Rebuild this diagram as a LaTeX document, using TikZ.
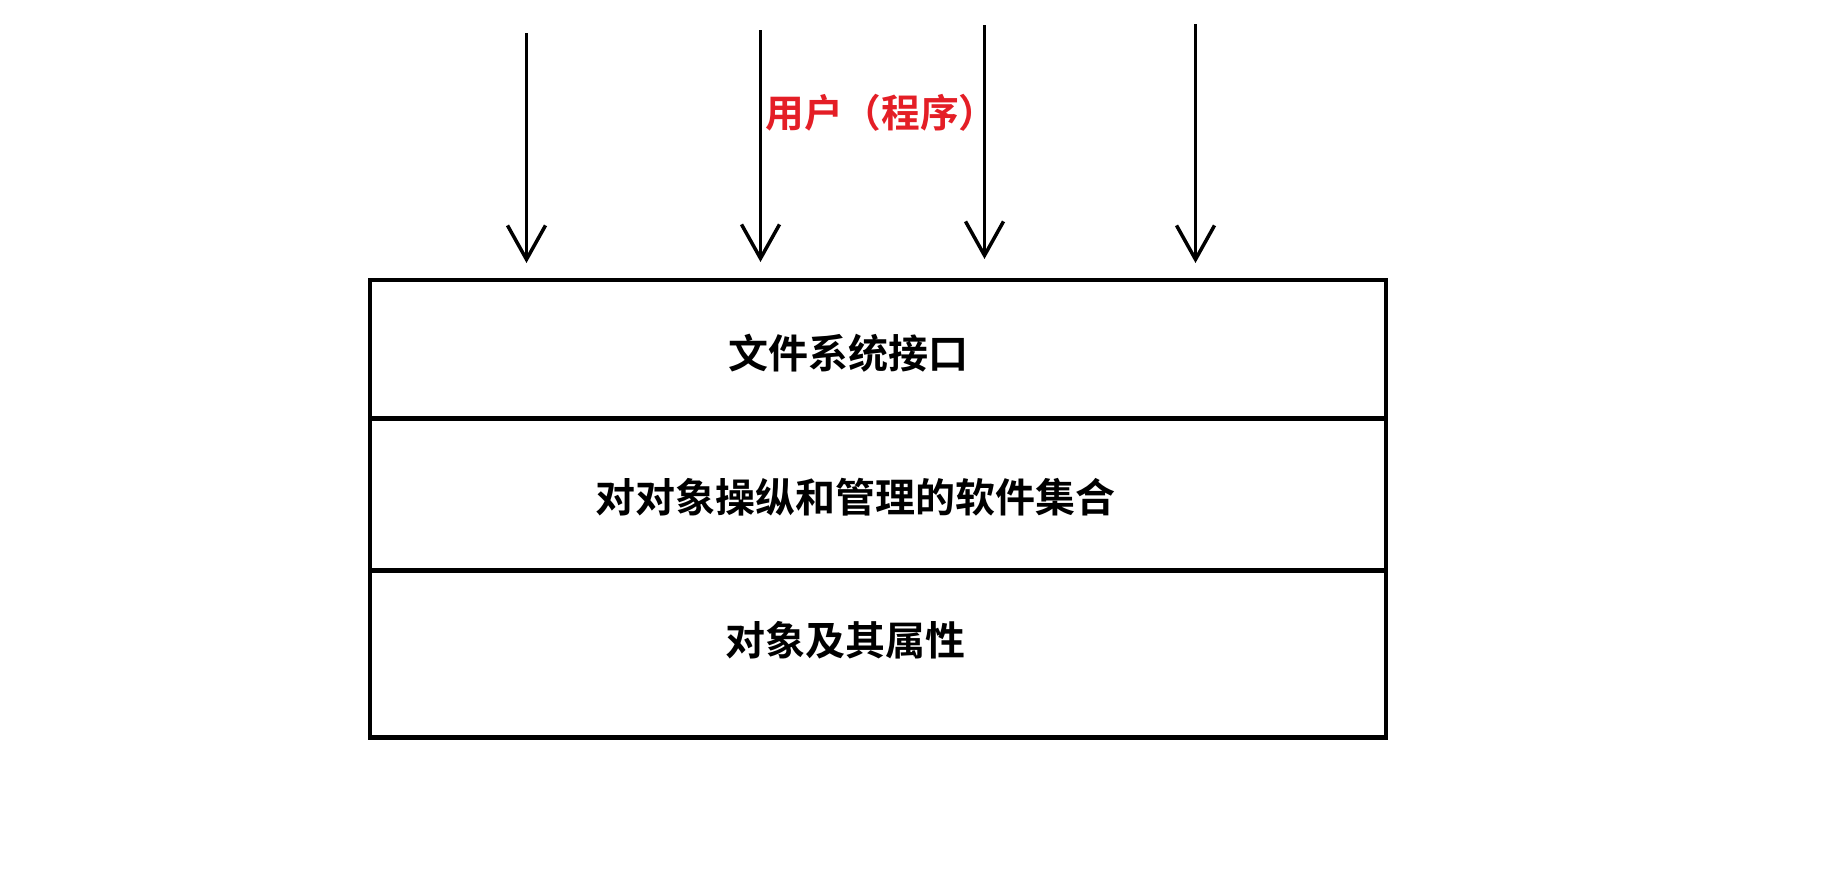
\documentclass[tikz,border=0pt]{standalone}
\usepackage{fontspec}
\newfontfamily\cjk{Noto Sans CJK SC Bold}
\usetikzlibrary{arrows.meta}
\definecolor{userred}{RGB}{228,30,38}
\tikzset{
  layer/.style={draw=black, line width=4.5pt, minimum width=1016pt, anchor=north west, inner sep=0pt},
  lbl/.style={font=\cjk\fontsize{40}{44}\selectfont, text=black},
  callarrow/.style={line width=3.5pt, -{Straight Barb[length=34pt,width=38pt,line width=3.5pt]}}
}
\begin{document}
\begin{tikzpicture}[x=1pt,y=-1pt]
\useasboundingbox (0,0) rectangle (1839,878);
\fill[white] (0,0) rectangle (1839,878);
% layers
\node[layer, minimum height=138.5pt] (l1) at (367.5,277.5) {};
\node[layer, minimum height=152pt] (l2) at (367.5,416) {};
\node[layer, minimum height=167pt] (l3) at (367.5,568) {};
\node[lbl] (t1) at (848.5,353) {文件系统接口};
\node[lbl] (t2) at (855.5,497) {对对象操纵和管理的软件集合};
\node[lbl] (t3) at (845.5,640) {对象及其属性};
% arrows
\coordinate (a1s) at (526.5,33);  \coordinate (a1e) at (526.5,263);
\coordinate (a2s) at (760.5,30);  \coordinate (a2e) at (760.5,262);
\coordinate (a3s) at (984.5,25);  \coordinate (a3e) at (984.5,259);
\coordinate (a4s) at (1195.5,24); \coordinate (a4e) at (1195.5,263);
\draw[callarrow] (a1s) -- (a1e);
\draw[callarrow] (a2s) -- (a2e);
\draw[callarrow] (a3s) -- (a3e);
\draw[callarrow] (a4s) -- (a4e);
\node[font=\cjk\fontsize{38.7}{42}\selectfont, text=userred] (user) at (881.5,113) {用户（程序）};
\end{tikzpicture}
\end{document}
